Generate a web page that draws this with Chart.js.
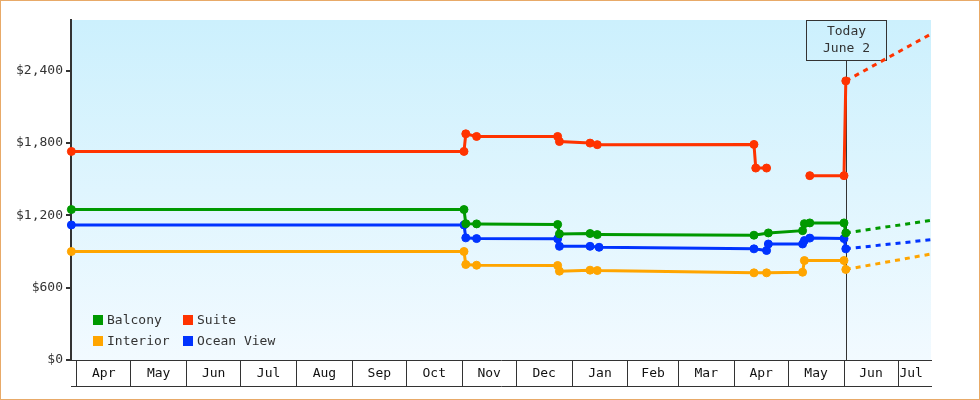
<!DOCTYPE html>
<html>
<head>
<meta charset="utf-8">
<script src="https://cdn.jsdelivr.net/npm/chart.js@4.4.0/dist/chart.umd.min.js"></script>
<style>
  html, body { margin: 0; padding: 0; background: #fff; }
  #wrap { position: relative; width: 980px; height: 400px; }
</style>
</head>
<body>
<div id="wrap"><canvas id="myChart"></canvas></div>
<script>
// x values are days counted from April 1 of the first year
const monthNames = ['Apr', 'May', 'Jun', 'Jul', 'Aug', 'Sep', 'Oct', 'Nov', 'Dec', 'Jan', 'Feb', 'Mar', 'Apr', 'May', 'Jun', 'Jul'];
const monthStarts = [0, 30, 61, 91, 122, 153, 183, 214, 244, 275, 306, 334, 365, 395, 426, 456, 487];
const priceTicks = [0, 600, 1200, 1800, 2400];
const xMin = -3.2;
const xMax = 474.3;
const todayDay = 427;
const todayLabel = ['Today', 'June 2'];

// observed prices
const balconyDays = [-3, 215, 216, 222, 267, 268, 285, 289, 376, 384, 403, 404, 407, 426, 427];
const balconyPrices = [1248, 1248, 1131, 1129, 1124, 1046, 1049, 1040, 1035, 1054, 1073, 1131, 1137, 1137, 1054];

const suiteDays = [-3, 215, 216, 222, 267, 268, 285, 289, 376, 377, 383, 395, 407, 426, 427];
const suitePrices = [1730, 1730, 1876, 1854, 1854, 1812, 1799, 1786, 1788, 1592, 1592, null, 1529, 1529, 2315];

const interiorDays = [-3, 215, 216, 222, 267, 268, 285, 289, 376, 383, 403, 404, 426, 427];
const interiorPrices = [900, 900, 792, 786, 784, 737, 745, 742, 723, 723, 728, 825, 825, 751];

const oceanDays = [-3, 215, 216, 222, 267, 268, 285, 290, 376, 383, 384, 403, 404, 407, 426, 427];
const oceanPrices = [1120, 1120, 1013, 1007, 1005, 943, 943, 935, 922, 908, 962, 962, 991, 1011, 1007, 922];

// forecast (dashed) from today to the right edge
const forecastDays = [427, 474.3];
const balconyForecast = [1054, 1158];
const suiteForecast = [2315, 2704];
const interiorForecast = [751, 879];
const oceanForecast = [922, 998];

const colors = {
  balcony: '#009900',
  suite: '#ff3300',
  interior: '#ffa500',
  ocean: '#0033ff'
};

const monoFont = { family: '"DejaVu Sans Mono", "Liberation Mono", monospace', size: 13 };

function points(days, prices) {
  return days.map((d, i) => ({ x: d, y: prices[i] }));
}

function series(label, days, prices, color) {
  return {
    label: label,
    data: points(days, prices),
    borderColor: color,
    backgroundColor: color,
    borderWidth: 3,
    pointRadius: 4,
    pointBorderWidth: 1,
    pointHoverRadius: 4,
    tension: 0,
    spanGaps: false,
    clip: 6
  };
}

function forecast(prices, color) {
  return {
    label: '',
    forecast: true,
    data: points(forecastDays, prices),
    borderColor: color,
    borderWidth: 3,
    borderDash: [5, 5],
    pointRadius: 0,
    tension: 0
  };
}

// gradient background, outer frame
const backdrop = {
  id: 'backdrop',
  beforeDraw(chart) {
    const { ctx, chartArea: a } = chart;
    ctx.save();
    ctx.fillStyle = '#fff';
    ctx.fillRect(0, 0, chart.width, chart.height);
    const g = ctx.createLinearGradient(0, a.top, 0, a.bottom);
    g.addColorStop(0, '#ccf0fd');
    g.addColorStop(1, '#f2faff');
    ctx.fillStyle = g;
    ctx.fillRect(a.left, a.top, a.right - a.left, a.bottom - a.top);
    ctx.restore();
  },
  afterDraw(chart) {
    const ctx = chart.ctx;
    ctx.save();
    ctx.strokeStyle = '#e8aa68';
    ctx.lineWidth = 1;
    ctx.strokeRect(0.5, 0.5, chart.width - 1, chart.height - 1);
    ctx.restore();
  }
};

// "Today" marker
const todayMarker = {
  id: 'todayMarker',
  beforeDatasetsDraw(chart) {
    const { ctx, chartArea: a, scales } = chart;
    const x = Math.round(scales.x.getPixelForValue(todayDay)) + 0.5;
    const boxW = 80, boxH = 40;
    ctx.save();
    ctx.strokeStyle = '#333';
    ctx.lineWidth = 1;
    ctx.beginPath();
    ctx.moveTo(x, a.top + boxH);
    ctx.lineTo(x, a.bottom);
    ctx.stroke();
    ctx.strokeRect(x - boxW / 2, a.top + 0.5, boxW, boxH);
    ctx.fillStyle = '#333';
    ctx.font = '13px ' + monoFont.family;
    ctx.textAlign = 'center';
    ctx.textBaseline = 'middle';
    ctx.fillText(todayLabel[0], x, a.top + 12);
    ctx.fillText(todayLabel[1], x, a.top + 29);
    ctx.restore();
  }
};

// 2x2 legend in the lower left of the plot
const cornerLegend = {
  id: 'cornerLegend',
  afterDatasetsDraw(chart) {
    const { ctx, chartArea: a } = chart;
    const items = chart.data.datasets.filter(d => !d.forecast);
    ctx.save();
    ctx.font = '13px ' + monoFont.family;
    ctx.textBaseline = 'middle';
    ctx.textAlign = 'left';
    items.forEach((d, i) => {
      const col = i % 2, row = Math.floor(i / 2);
      const bx = a.left + 22 + col * 90;
      const by = a.bottom - 45 + row * 21;
      ctx.fillStyle = d.borderColor;
      ctx.fillRect(bx, by, 10, 10);
      ctx.fillStyle = '#333';
      ctx.fillText(d.label, bx + 14, by + 5.5);
    });
    ctx.restore();
  }
};

const ctx = document.getElementById('myChart').getContext('2d');

new Chart(ctx, {
  type: 'line',
  data: {
    datasets: [
      series('Balcony', balconyDays, balconyPrices, colors.balcony),
      series('Suite', suiteDays, suitePrices, colors.suite),
      series('Interior', interiorDays, interiorPrices, colors.interior),
      series('Ocean View', oceanDays, oceanPrices, colors.ocean),
      forecast(balconyForecast, colors.balcony),
      forecast(suiteForecast, colors.suite),
      forecast(interiorForecast, colors.interior),
      forecast(oceanForecast, colors.ocean)
    ]
  },
  options: {
    responsive: true,
    maintainAspectRatio: false,
    animation: false,
    events: [],
    layout: { padding: { left: 0, right: 49, top: 20, bottom: 14 } },
    plugins: {
      legend: { display: false },
      tooltip: { enabled: false }
    },
    scales: {
      x: {
        type: 'linear',
        position: 'bottom',
        weight: 0,
        min: xMin,
        max: xMax,
        afterFit: s => { s.height = 26; },
        afterBuildTicks: s => {
          const ticks = [];
          monthNames.forEach((name, i) => {
            ticks.push({ value: monthStarts[i], boundary: true });
            const mid = Math.min((monthStarts[i] + monthStarts[i + 1]) / 2, xMax - 11);
            ticks.push({ value: mid, name: name });
          });
          s.ticks = ticks;
        },
        grid: {
          drawOnChartArea: false,
          tickLength: 26,
          lineWidth: 1,
          color: c => (c.tick && c.tick.boundary) ? '#333' : 'rgba(0,0,0,0)'
        },
        border: { color: '#333', width: 1 },
        ticks: {
          autoSkip: false,
          maxRotation: 0,
          minRotation: 0,
          padding: -20,
          color: '#111',
          font: monoFont,
          callback: (v, i, t) => t[i].name || ''
        }
      },
      x2: {
        type: 'linear',
        position: 'bottom',
        weight: 1,
        min: xMin,
        max: xMax,
        afterFit: s => { s.height = 0; },
        ticks: { display: false },
        grid: { drawOnChartArea: false, drawTicks: false, color: 'rgba(0,0,0,0)' },
        border: { color: '#333', width: 1 }
      },
      y: {
        min: 0,
        max: 2820,
        afterFit: s => { s.width = 71; },
        afterBuildTicks: s => { s.ticks = priceTicks.map(v => ({ value: v })); },
        grid: { drawOnChartArea: false, tickLength: 5, lineWidth: 2, color: '#333' },
        border: { color: '#333', width: 2 },
        ticks: {
          padding: 3,
          color: '#333',
          font: monoFont,
          callback: v => '$' + v.toLocaleString('en-US')
        }
      }
    }
  },
  plugins: [backdrop, todayMarker, cornerLegend]
});
</script>
</body>
</html>
